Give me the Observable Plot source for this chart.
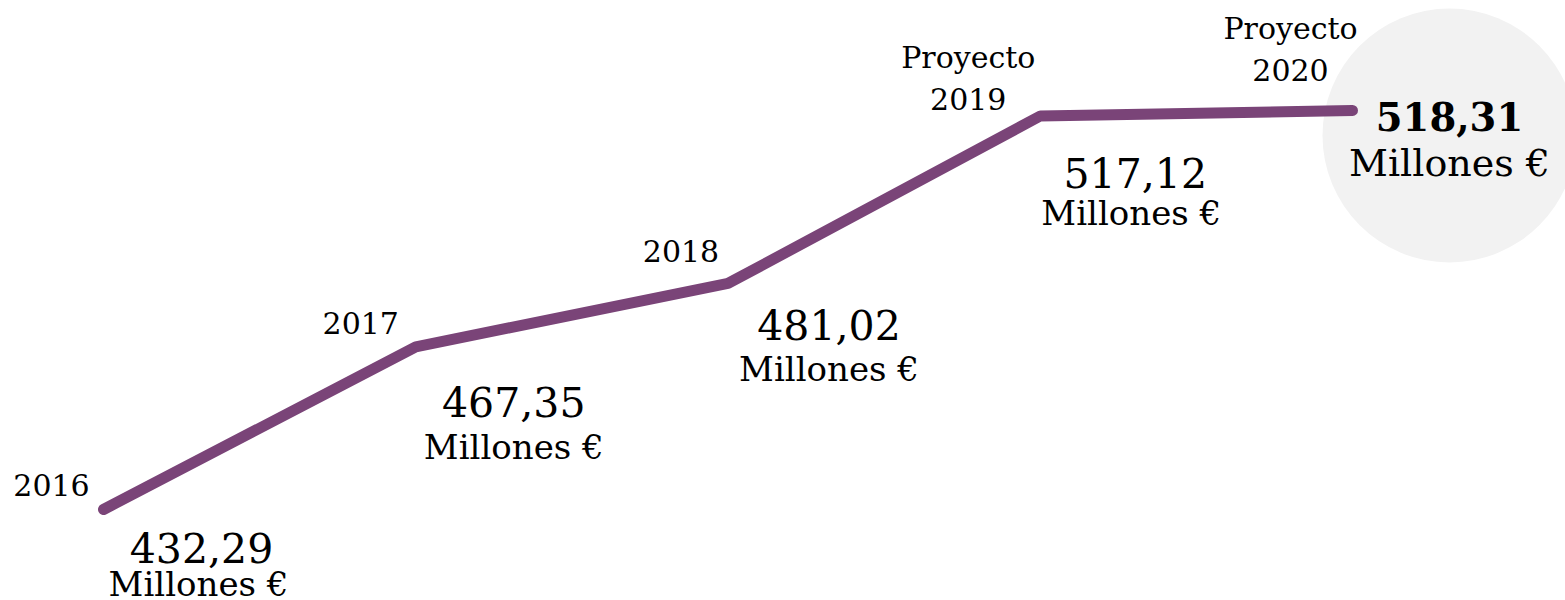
<!DOCTYPE html>
<html>
<head>
<meta charset="utf-8">
<script src="https://cdn.jsdelivr.net/npm/d3@7"></script>
<script src="https://cdn.jsdelivr.net/npm/@observablehq/plot@0.6"></script>
<style>
  html, body { margin: 0; padding: 0; background: #ffffff; }
  #chart svg { display: block; }
</style>
</head>
<body>
<div id="chart"></div>
<script>
// ---- data ----
const years = [2016, 2017, 2018, 2019, 2020];
const values = [432.29, 467.35, 481.02, 517.12, 518.31];
const yearLabels = ["2016", "2017", "2018", "Proyecto\n2019", "Proyecto\n2020"];
const valueLabels = ["432,29", "467,35", "481,02", "517,12", "518,31"];
const unitLabel = "Millones €";

// ---- layout (pixel offsets from each point) ----
const yearOffsets = [[-52, -14], [-55, -13], [-47, -21], [-72, -6], [-62, -30]];
const valueOffsets = [[98, 53], [98, 70], [101, 57], [95, 72], [97, 20]];
const unitOffsets = [[95, 86], [98, 112], [101, 98], [91, 109], [97, 65]];

const data = years.map((y, i) => ({year: y, value: values[i]}));
const font = "'DejaVu Serif', serif";
const color = "#7a4478";

const marks = [
  Plot.dot([data[4]], {x: "year", y: "value", r: 127, dx: 97, dy: 25, fill: "#f2f2f2", stroke: null}),
  Plot.line(data, {x: "year", y: "value", stroke: color, strokeWidth: 11,
    strokeLinecap: "round", strokeLinejoin: "miter"})
];

data.forEach((d, i) => {
  const last = i === data.length - 1;
  marks.push(Plot.text([d], {x: "year", y: "value", text: () => yearLabels[i],
    dx: yearOffsets[i][0], dy: yearOffsets[i][1], lineAnchor: "bottom",
    fontSize: 30, fill: "#000", lineHeight: 1.4, letterSpacing: "0.5px"}));
  marks.push(Plot.text([d], {x: "year", y: "value", text: () => valueLabels[i],
    dx: valueOffsets[i][0], dy: valueOffsets[i][1], lineAnchor: "bottom",
    fontSize: last ? 38.5 : 41, fontWeight: last ? "bold" : "normal", fill: "#000"}));
  marks.push(Plot.text([d], {x: "year", y: "value", text: () => unitLabel,
    dx: unitOffsets[i][0], dy: unitOffsets[i][1], lineAnchor: "bottom",
    fontSize: last ? 38 : 34, fill: "#000"}));
});

const chart = Plot.plot({
  width: 1565,
  height: 600,
  margin: 0,
  style: {fontFamily: font, background: "#ffffff", overflow: "visible"},
  x: {domain: [2016, 2020], range: [103, 1352], axis: null},
  y: {domain: [432.29, 518.31], range: [509, 110], axis: null},
  marks
});
document.getElementById("chart").appendChild(chart);
</script>
</body>
</html>
